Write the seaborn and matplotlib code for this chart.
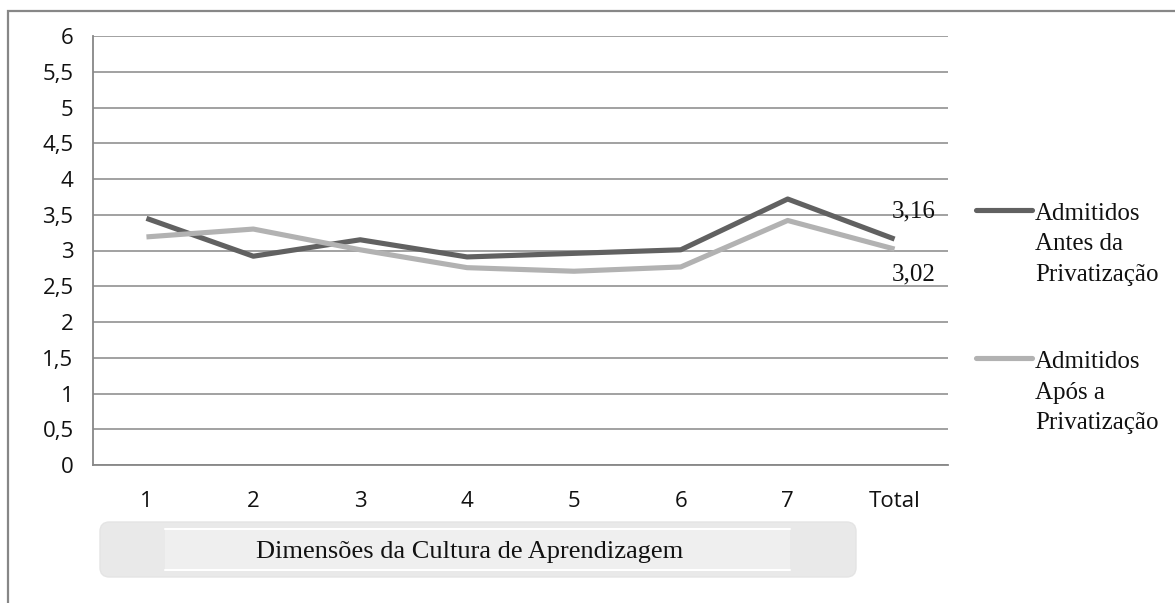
import matplotlib
matplotlib.use("Agg")
import matplotlib.pyplot as plt
import matplotlib.patches as mpatches
from matplotlib.lines import Line2D
import seaborn as sns
import pandas as pd

categories = ['1', '2', '3', '4', '5', '6', '7', 'Total']
antes = [3.45, 2.92, 3.15, 2.91, 2.96, 3.01, 3.72, 3.16]
apos = [3.19, 3.30, 3.01, 2.76, 2.71, 2.77, 3.42, 3.02]
series_names = ['Admitidos\nAntes da\nPrivatização', 'Admitidos\nApós a\nPrivatização']
series_colors = ['#616161', '#b2b2b2']
y_ticks = [0, 0.5, 1, 1.5, 2, 2.5, 3, 3.5, 4, 4.5, 5, 5.5, 6]
x_title = 'Dimensões da Cultura de Aprendizagem'

df = pd.DataFrame({
    'pos': list(range(len(categories))) * 2,
    'valor': antes + apos,
    'grupo': [series_names[0]] * len(antes) + [series_names[1]] * len(apos),
})

sns.set_style('white')
W, H = 1175, 603
fig = plt.figure(figsize=(W / 100, H / 100), dpi=100)
ax = fig.add_axes([93 / W, 1 - 465 / H, (948 - 93) / W, (465 - 36) / H])

sns.lineplot(data=df, x='pos', y='valor', hue='grupo', palette=series_colors,
             linewidth=3.7, ax=ax, legend=False, solid_capstyle='butt')

grid_c = '#878787'
tick_font = 'Open Sans'
serif = 'Liberation Serif'
ax.set_xlim(-0.5, len(categories) - 0.5)
ax.set_ylim(0, 6)
ax.set_yticks(y_ticks)
ax.set_yticklabels([('%g' % v).replace('.', ',') for v in y_ticks])
ax.yaxis.grid(True, color=grid_c, linewidth=1.1)
ax.set_axisbelow(True)
ax.set_xticks(range(len(categories)))
ax.set_xticklabels(categories)
ax.set_xticks([i - 0.5 for i in range(len(categories) + 1)], minor=True)
ax.tick_params(axis='x', which='major', length=0, pad=19)
ax.tick_params(axis='x', which='minor', length=7, width=1.1, color=grid_c)
ax.tick_params(axis='y', length=6, width=1.1, color=grid_c, pad=8)
for lab in ax.get_xticklabels() + ax.get_yticklabels():
    lab.set_fontfamily(tick_font)
    lab.set_fontsize(16)
    lab.set_color('#111111')
for s in ['top', 'right']:
    ax.spines[s].set_visible(False)
for s in ['left', 'bottom']:
    ax.spines[s].set_color(grid_c)
    ax.spines[s].set_linewidth(1.3)
ax.set_xlabel('')
ax.set_ylabel('')

# data labels for the Total point
last = len(categories) - 1
ax.annotate(('%.2f' % antes[-1]).replace('.', ','), (last, antes[-1]),
            xytext=(14, 20), textcoords='offset points', ha='center', va='center',
            family=serif, fontsize=18, color='#111111')
ax.annotate(('%.2f' % apos[-1]).replace('.', ','), (last, apos[-1]),
            xytext=(14, -18), textcoords='offset points', ha='center', va='center',
            family=serif, fontsize=18, color='#111111')

# legend: handle aligned with the first text line
leg_y = [210, 358]
for name, color, yy in zip(series_names, series_colors, leg_y):
    fig.add_artist(Line2D([976 / W, 1032 / W], [1 - yy / H, 1 - yy / H],
                          transform=fig.transFigure, color=color, linewidth=3.7,
                          solid_capstyle='round'))
    fig.text(1035 / W, 1 - (yy - 7) / H, name, ha='left', va='top',
             family=serif, fontsize=18, color='#111111', linespacing=1.5)

# x-axis title box
box = mpatches.FancyBboxPatch((100 / W, 1 - 577 / H), (856 - 100) / W, (577 - 522) / H,
                              boxstyle='round,pad=0,rounding_size=0.008',
                              transform=fig.transFigure, facecolor='#e9e9e9',
                              edgecolor='#e4e4e4', linewidth=1, mutation_aspect=W / H)
fig.patches.append(box)
inner = mpatches.Rectangle((165 / W, 1 - 570 / H), (790 - 165) / W, (570 - 529) / H,
                           transform=fig.transFigure, facecolor='#efefef',
                           edgecolor='none')
fig.patches.append(inner)
for yy in [529, 570]:
    fig.add_artist(Line2D([165 / W, 790 / W], [1 - yy / H, 1 - yy / H],
                          transform=fig.transFigure, color='white', linewidth=1.5))
fig.text(470 / W, 1 - 552 / H, x_title, ha='center', va='center',
         family=serif, fontsize=19, color='#111111')

# outer chart border
border = mpatches.Rectangle((8 / W, -0.2), 1.0, 1.2 - 11 / H, transform=fig.transFigure,
                            facecolor='none', edgecolor='#878787', linewidth=1.6)
fig.patches.append(border)

fig.savefig('out.png', dpi=100)
plt.close(fig)
